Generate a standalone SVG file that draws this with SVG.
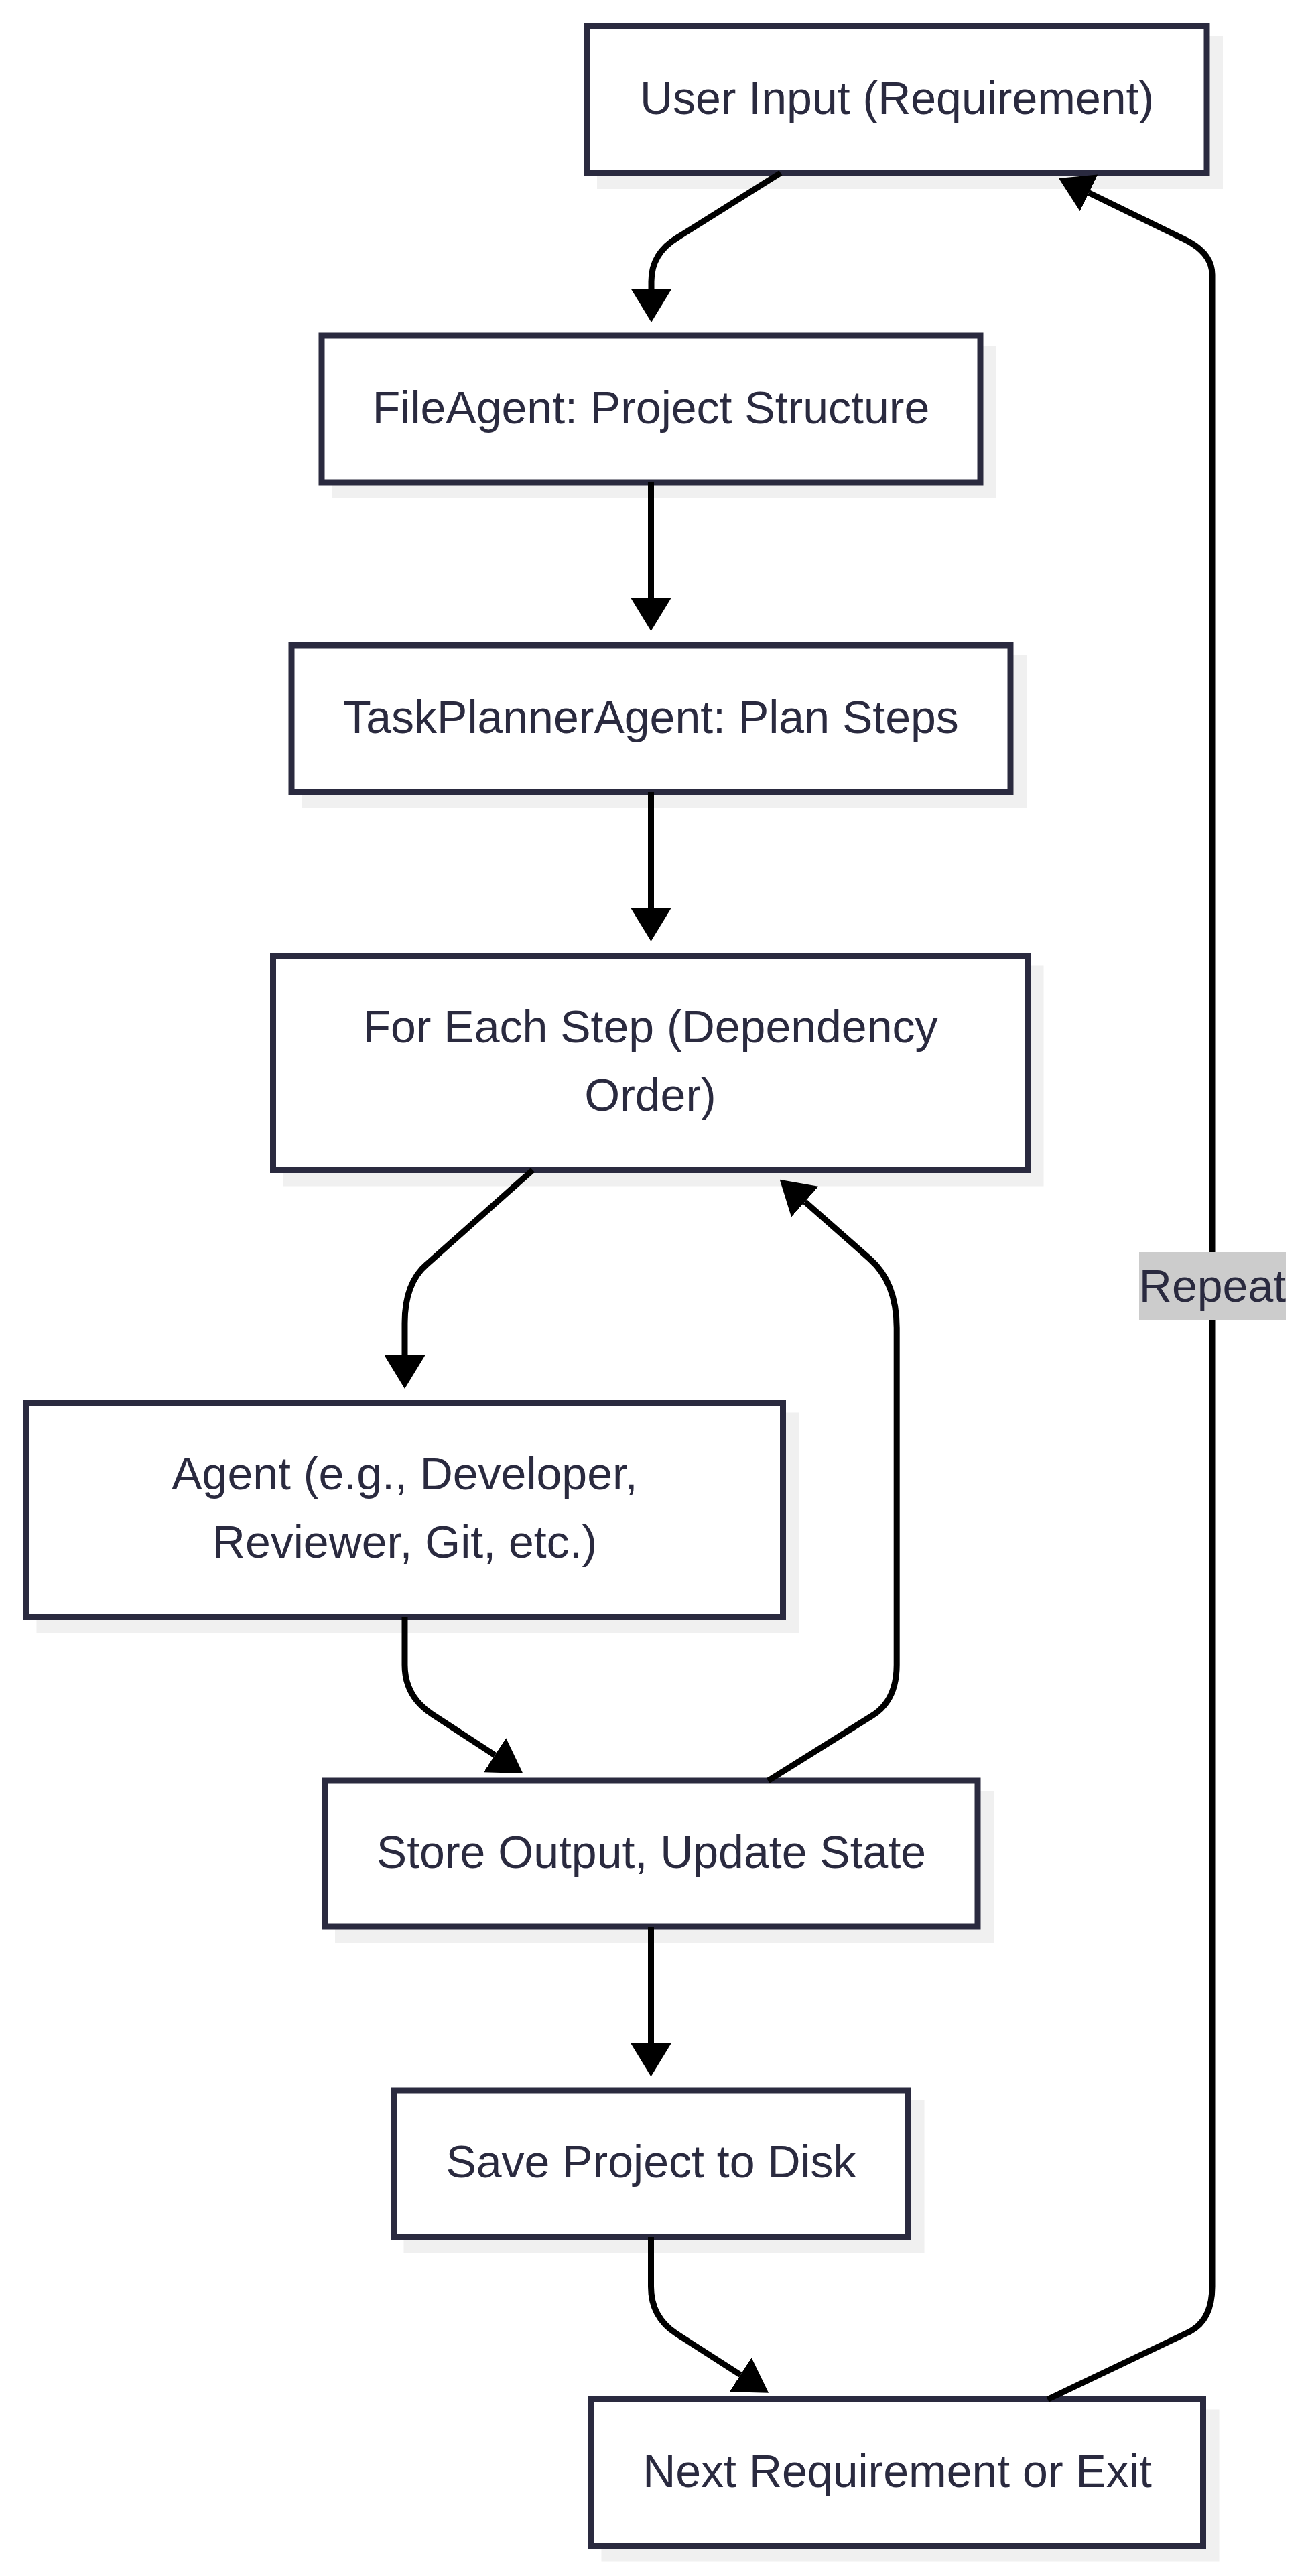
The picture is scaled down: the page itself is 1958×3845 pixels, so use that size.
<svg xmlns="http://www.w3.org/2000/svg" width="1958" height="3845" viewBox="0 0 1958 3845">
<style>
.shadow{fill:#f0f0f0}
.box{fill:#ffffff;stroke:#2a2a3f;stroke-width:9}
.lbl{font-family:"Liberation Sans",Arial,Helvetica,sans-serif;font-size:68px;fill:#2a2a3f;text-anchor:middle}
.edge{fill:none;stroke:#000000;stroke-width:9}
.elbg{fill:#cccccc}
</style>
<defs>
<marker id="arrow" markerUnits="userSpaceOnUse" viewBox="0 0 50 61" markerWidth="50" markerHeight="61" refX="0" refY="30.5" orient="auto">
<path d="M0,0 L50,30.5 L0,61 Z" fill="#000000"/>
</marker>
</defs>
<rect width="1958" height="3845" fill="#ffffff"/>
<g id="nodes">
<g id="userInput">
<rect class="shadow" x="891" y="54" width="934" height="228"/>
<rect class="box" x="876" y="39" width="925" height="219"/>
<text class="lbl" x="1338.5" y="169.5">User Input (Requirement)</text>
</g>
<g id="fileAgent">
<rect class="shadow" x="495" y="516" width="992" height="228"/>
<rect class="box" x="480" y="501" width="983" height="219"/>
<text class="lbl" x="971.5" y="631.5">FileAgent: Project Structure</text>
</g>
<g id="taskPlanner">
<rect class="shadow" x="450" y="978" width="1082" height="228"/>
<rect class="box" x="435" y="963" width="1073" height="219"/>
<text class="lbl" x="971.5" y="1093.5">TaskPlannerAgent: Plan Steps</text>
</g>
<g id="forEachStep">
<rect class="shadow" x="422.5" y="1441.5" width="1135" height="329"/>
<rect class="box" x="407.5" y="1426.5" width="1126" height="320"/>
<text class="lbl" x="970.5" y="1555.5">For Each Step (Dependency</text>
<text class="lbl" x="970.5" y="1657.5">Order)</text>
</g>
<g id="agent">
<rect class="shadow" x="54.5" y="2108.5" width="1138" height="329"/>
<rect class="box" x="39.5" y="2093.5" width="1129" height="320"/>
<text class="lbl" x="604" y="2222.5">Agent (e.g., Developer,</text>
<text class="lbl" x="604" y="2324.5">Reviewer, Git, etc.)</text>
</g>
<g id="storeOutput">
<rect class="shadow" x="500" y="2673" width="983" height="227"/>
<rect class="box" x="485" y="2658" width="974" height="218"/>
<text class="lbl" x="972" y="2788">Store Output, Update State</text>
</g>
<g id="saveProject">
<rect class="shadow" x="602.5" y="3135" width="777" height="228"/>
<rect class="box" x="587.5" y="3120" width="768" height="219"/>
<text class="lbl" x="971.5" y="3250">Save Project to Disk</text>
</g>
<g id="nextRequirement">
<rect class="shadow" x="897.5" y="3596.5" width="922" height="227"/>
<rect class="box" x="882.5" y="3581.5" width="913" height="218"/>
<text class="lbl" x="1339" y="3711.5">Next Requirement or Exit</text>
</g>
</g>
<g id="connectors">
<path class="edge" marker-end="url(#arrow)" d="M1165,258 L1011,354.6 Q972,378 972,420 L972,431"/>
<path class="edge" marker-end="url(#arrow)" d="M971.5,720 L971.5,892"/>
<path class="edge" marker-end="url(#arrow)" d="M971.5,1182 L971.5,1355"/>
<path class="edge" marker-end="url(#arrow)" d="M795,1746.5 L637,1887 Q604,1915 604,1975 L604,2023"/>
<path class="edge" marker-end="url(#arrow)" d="M604,2413.5 L604,2485 Q604,2532 645,2558.7 L738.5,2619.7"/>
<path class="edge" marker-end="url(#arrow)" d="M1146.3,2658 L1300.8,2561.4 Q1338.2,2539 1338.2,2485 L1338.2,1982 Q1338.2,1914.4 1298,1879 L1201.2,1793.7"/>
<path class="edge" marker-end="url(#arrow)" d="M971.5,2876 L971.5,3049.5"/>
<path class="edge" marker-end="url(#arrow)" d="M971.5,3339 L971.5,3413 Q971.5,3458.6 1009,3483 L1105,3544.7"/>
<path class="edge" marker-end="url(#arrow)" d="M1563.5,3581.5 L1772.5,3481.7 Q1809,3465 1809,3413 L1809,410 Q1809,377 1766.7,356.7 L1625,287.8"/>
</g>
<g id="edgeLabels">
<g id="repeatLabel">
<rect class="elbg" x="1700" y="1869" width="219" height="102"/>
<text class="lbl" x="1809.5" y="1942.5">Repeat</text>
</g>
</g>
</svg>
